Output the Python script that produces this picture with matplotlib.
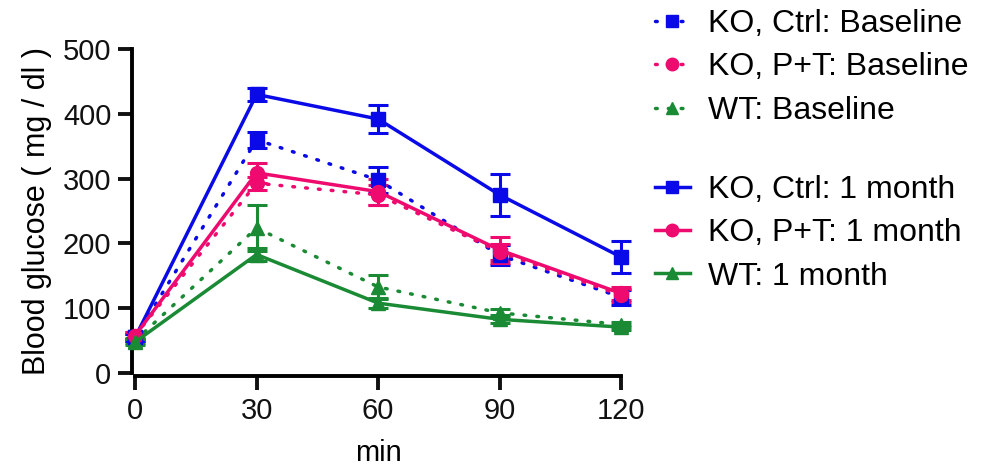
import matplotlib
matplotlib.use('Agg')
import matplotlib.pyplot as plt
from matplotlib.lines import Line2D

plt.rcParams['font.family'] = ['Liberation Sans', 'DejaVu Sans']

# data
minutes = [0, 30, 60, 90, 120]

ko_ctrl_base = [55, 360, 298, 182, 117]
ko_ctrl_base_err = [5, 12, 20, 15, 12]
ko_pt_base = [58, 293, 275, 187, 120]
ko_pt_base_err = [5, 10, 15, 12, 10]
wt_base = [50, 224, 133, 93, 75]
wt_base_err = [4, 35, 18, 6, 4]

ko_ctrl_1m = [55, 430, 392, 275, 179]
ko_ctrl_1m_err = [5, 10, 22, 32, 25]
ko_pt_1m = [58, 309, 280, 190, 123]
ko_pt_1m_err = [5, 15, 20, 20, 10]
wt_1m = [48, 183, 108, 83, 71]
wt_1m_err = [4, 10, 8, 6, 4]

blue = '#0a0ae8'
pink = '#ee0a6e'
green = '#1a8a34'
dotted = (0, (0.5, 3.2))

fig = plt.figure(figsize=(9.86, 4.67), dpi=100)
ax = fig.add_axes([0.137, 0.201, 0.493, 0.694])

series = [
    (ko_ctrl_base, ko_ctrl_base_err, blue, 's', dotted),
    (ko_pt_base, ko_pt_base_err, pink, 'o', dotted),
    (wt_base, wt_base_err, green, '^', dotted),
    (ko_ctrl_1m, ko_ctrl_1m_err, blue, 's', '-'),
    (ko_pt_1m, ko_pt_1m_err, pink, 'o', '-'),
    (wt_1m, wt_1m_err, green, '^', '-'),
]
for y, e, c, m, ls in series:
    line, caps, bars = ax.errorbar(minutes, y, yerr=e, color=c, marker=m, markersize=10,
                                   linestyle=ls, linewidth=2.5,
                                   elinewidth=2.2, capsize=7, capthick=2.2,
                                   clip_on=False, zorder=3)
    line.set_dash_capstyle('round')

ax.set_xlim(0, 120)
ax.set_ylim(0, 500)
ax.set_xticks(minutes)
ax.set_yticks([0, 100, 200, 300, 400, 500])
for s in ['top', 'right']:
    ax.spines[s].set_visible(False)
for s in ['left', 'bottom']:
    ax.spines[s].set_linewidth(2.8)
    ax.spines[s].set_position(('outward', 2))
ax.tick_params(width=2.8, length=10, labelsize=21, pad=5, colors='#111111')
ax.set_xlabel('min', fontsize=21, labelpad=10)
ax.set_ylabel('Blood glucose ( mg / dl )', fontsize=22, labelpad=8)

def handle(c, m, ls):
    return Line2D([], [], color=c, marker=m, markersize=9, linestyle=ls,
                  linewidth=2.5, dash_capstyle='round')

base_handles = [handle(blue, 's', dotted), handle(pink, 'o', dotted), handle(green, '^', dotted)]
base_labels = ['KO, Ctrl: Baseline', 'KO, P+T: Baseline', 'WT: Baseline']
month_handles = [handle(blue, 's', '-'), handle(pink, 'o', '-'), handle(green, '^', '-')]
month_labels = ['KO, Ctrl: 1 month', 'KO, P+T: 1 month', 'WT: 1 month']

leg_kw = dict(loc='upper left', frameon=False, fontsize=23, handlelength=1.1,
              handletextpad=0.56, labelspacing=0.42, borderaxespad=0)
fig.legend(base_handles, base_labels, bbox_to_anchor=(0.651, 1.008), **leg_kw)
fig.legend(month_handles, month_labels, bbox_to_anchor=(0.651, 0.653), **leg_kw)

fig.savefig('out.png', dpi=100)
